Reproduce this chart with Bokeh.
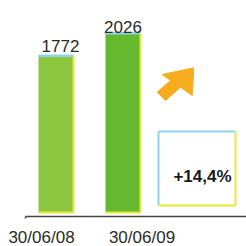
from bokeh.plotting import figure
from bokeh.models import Range1d, ColumnDataSource
from bokeh.core.properties import value
from bokeh.embed import file_html
from bokeh.resources import INLINE

# ---- data ----
dates = ["30/06/08", "30/06/09"]
employees = [1772, 2026]
bar_colors = ["#8dc63f", "#66b82e"]
change_label = "+14,4%"

# ---- layout helpers (pixel <-> data) ----
W, H = 246, 246
X0_PX = 55.5      # canvas x of first bar centre
X_STEP = 67.0     # px per category
Y0_PX = 212.0     # canvas y of value 0
Y_SCALE = 0.0885  # px per unit

def dx(px):
    return (px - X0_PX) / X_STEP

def dy(py):
    return (Y0_PX - py) / Y_SCALE

p = figure(width=W, height=H, output_backend="svg", toolbar_location=None,
           x_range=Range1d(dx(0), dx(W)), y_range=Range1d(dy(H), dy(0)),
           min_border=0)
p.axis.visible = False
p.grid.visible = False
p.outline_line_color = None
p.background_fill_color = "white"
p.border_fill_color = "white"

xs = list(range(len(employees)))
bw = 35 / X_STEP
src = ColumnDataSource(dict(x=xs, top=employees, color=bar_colors,
                            left=[x - bw / 2 for x in xs],
                            right=[x + bw / 2 for x in xs],
                            zero=[0] * len(xs),
                            lab=[str(v) for v in employees],
                            date=dates,
                            date_off=[-14.5, 19.0],
                            val_xoff=[4.5, 0.0],
                            val_yoff=[-9.5, -6.0]))

p.vbar(x="x", top="top", bottom=0, width=bw, fill_color="color", line_color=None, source=src)
# top edges (light blue), right & bottom edges (yellow)
p.segment(x0="left", y0="top", x1="right", y1="top", line_color="#8fd3ea", line_width=2.5, source=src)
p.segment(x0="right", y0="zero", x1="right", y1="top", line_color="#e6ea3a", line_width=2, source=src)
p.segment(x0="left", y0="zero", x1="right", y1="zero", line_color="#e6ea3a", line_width=2, source=src)

# value labels
p.text(x="x", y="top", text="lab", x_offset="val_xoff", y_offset="val_yoff", source=src,
       text_align="center", text_baseline="middle", text_font_size="17px",
       text_font=value("Liberation Sans"), text_color="#2a2a2a")

# axis line
p.segment(x0=[dx(25)], y0=[dy(216)], x1=[dx(W)], y1=[dy(216)], line_color="#444444", line_width=1.5)
p.segment(x0=[dx(25)], y0=[dy(216)], x1=[dx(25)], y1=[dy(218)], line_color="#444444", line_width=1.5)

# date labels
p.text(x="x", y=dy(237), text="date", x_offset="date_off", source=src,
       text_align="center", text_baseline="middle", text_font_size="17px",
       text_font=value("Liberation Sans"), text_color="#2a2a2a")

# growth arrow (orange)
arrow_px = [(193.3, 67.3), (191.7, 95), (180, 86.8), (165, 100), (156.7, 91.7),
            (170.1, 79.9), (161.7, 74)]
p.patch([dx(a) for a, b in arrow_px], [dy(b) for a, b in arrow_px],
        fill_color="#f7ac1f", line_color="#f7ac1f", line_width=1)

# percent box
bl, br, bt, bb = 158, 235, 131, 205
p.quad(left=[dx(bl)], right=[dx(br)], top=[dy(bt)], bottom=[dy(bb)],
       fill_color="white", line_color=None)
p.segment(x0=[dx(bl), dx(bl)], y0=[dy(bt), dy(bt)], x1=[dx(br), dx(bl)], y1=[dy(bt), dy(bb)],
          line_color="#8fd3ea", line_width=2)
p.segment(x0=[dx(br), dx(bl)], y0=[dy(bt), dy(bb)], x1=[dx(br), dx(br)], y1=[dy(bb), dy(bb)],
          line_color="#e6ea3a", line_width=2)
p.text(x=[dx(202)], y=[dy(176)], text=[change_label], text_align="center",
       text_baseline="middle", text_font_size="17px", text_font_style="bold",
       text_font=value("Liberation Sans"), text_color="#1a1a1a")

open("out.html", "w").write(file_html(p, INLINE))
